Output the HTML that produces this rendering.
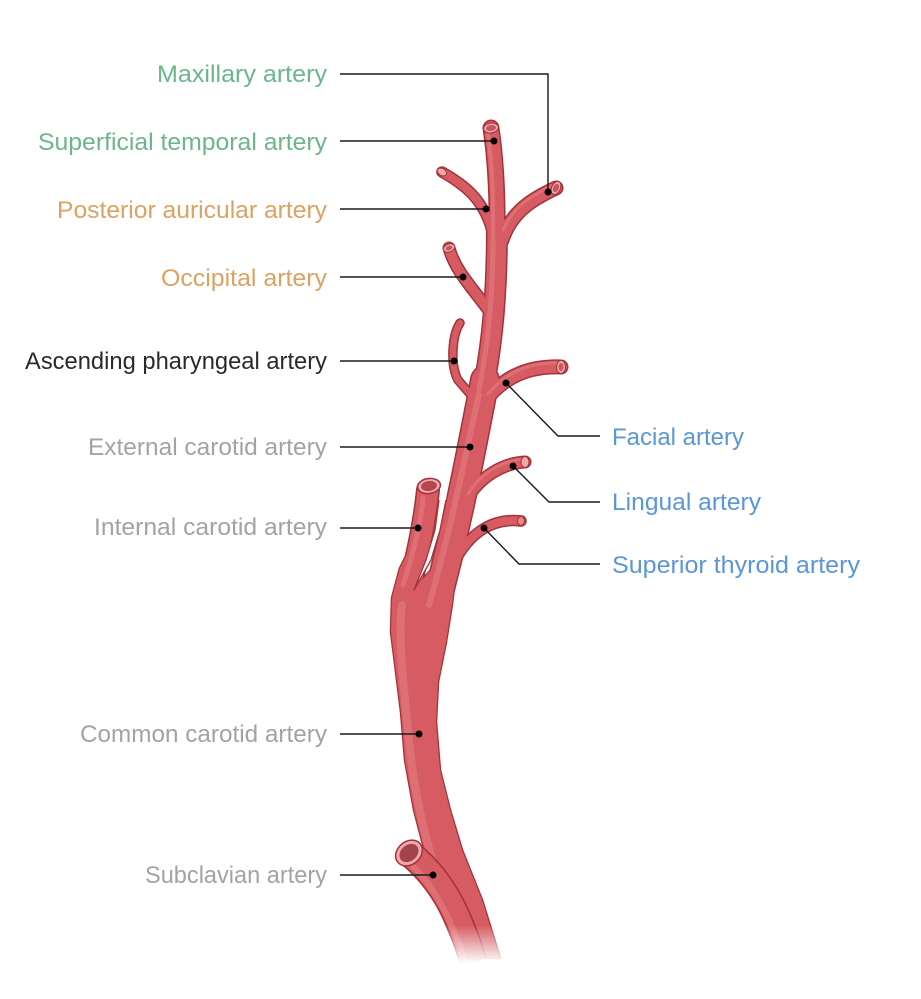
<!DOCTYPE html>
<html><head><meta charset="utf-8"><style>
html,body{margin:0;padding:0;background:#fff;}
svg{display:block;}
.t{font-family:"Liberation Sans",sans-serif;font-size:24.5px;}
</style></head><body>
<svg width="921" height="999" viewBox="0 0 921 999" xmlns="http://www.w3.org/2000/svg">
<defs>
<linearGradient id="fade" x1="0" y1="0" x2="0" y2="1">
<stop offset="0" stop-color="#fff" stop-opacity="0"/>
<stop offset="0.85" stop-color="#fff" stop-opacity="1"/>
<stop offset="1" stop-color="#fff" stop-opacity="1"/>
</linearGradient>
</defs>

<!-- OUTLINE LAYER -->
<g fill="none" stroke="#a3323a" stroke-linecap="round" stroke-linejoin="round">
<path d="M410,548 L400,568 L392,598 L391,632 L396,672 L401,712 L405,760 L414,810 L425,852 L443,900 L462,958 L500,958 L482,900 L462,850 L450,810 L440,770 L436,722 L438,682 L446,642 L452,604 L456,572 L458,540 L413,590 Z" fill="#a3323a" stroke-width="2.5"/>
<path d="M491,128 Q498,175 497,240" stroke-width="17"/>
<path d="M497,225 C497,290 493,340 483,390" stroke-width="22"/>
<path d="M485,380 C473,440 460,515 434,612" stroke-width="30"/>
<path d="M556,188 C535,198 512,210 502,240" stroke-width="15"/>
<path d="M442,172 C465,185 485,200 493,235" stroke-width="11.5"/>
<path d="M449,248 C455,270 470,285 490,312" stroke-width="13"/>
<path d="M460,323 C452,335 450,365 458,380 L477,402" stroke-width="9.5"/>
<path d="M561,367 C530,366 505,375 484,402" stroke-width="15"/>
<path d="M525,462 C505,463 480,475 465,502" stroke-width="13"/>
<path d="M521,521 C495,518 470,530 453,565" stroke-width="11.5"/>
<path d="M428,490 C425,520 419,550 409,590" stroke-width="24"/>
</g>

<!-- FILL LAYER -->
<g fill="none" stroke="#d65b62" stroke-linecap="round" stroke-linejoin="round">
<path d="M410,548 L400,568 L392,598 L391,632 L396,672 L401,712 L405,760 L414,810 L425,852 L443,900 L462,958 L500,958 L482,900 L462,850 L450,810 L440,770 L436,722 L438,682 L446,642 L452,604 L456,572 L458,540 L413,590 Z" fill="#d65b62" stroke="none"/>
<path d="M491,128 Q498,175 497,240" stroke-width="14"/>
<path d="M497,225 C497,290 493,340 483,390" stroke-width="19"/>
<path d="M485,380 C473,440 460,515 434,612" stroke-width="27"/>
<path d="M556,188 C535,198 512,210 502,240" stroke-width="12"/>
<path d="M442,172 C465,185 485,200 493,235" stroke-width="8.5"/>
<path d="M449,248 C455,270 470,285 490,312" stroke-width="10"/>
<path d="M460,323 C452,335 450,365 458,380 L477,402" stroke-width="6.5"/>
<path d="M561,367 C530,366 505,375 484,402" stroke-width="12"/>
<path d="M525,462 C505,463 480,475 465,502" stroke-width="10"/>
<path d="M521,521 C495,518 470,530 453,565" stroke-width="8.5"/>
<path d="M428,490 C425,520 419,550 409,590" stroke-width="21"/>
</g>

<!-- white gap between ICA and ECA -->
<path d="M440,492 L447,492 L446,500 L440,530 L431,560 L414,590 L426,560 L435,530 L439,500 Z" fill="#fff" stroke="none"/>
<path d="M439,500 L435,530 L426,560 L414,590 L431,560 L440,530 L446,500" fill="none" stroke="#a3323a" stroke-width="1.3" stroke-linejoin="round"/>

<!-- HIGHLIGHT LAYER -->
<g fill="none" stroke="#e98a8e" stroke-linecap="round" opacity="0.45">
<path d="M488,135 Q494,175 493,240" stroke-width="4"/>
<path d="M493,240 C493,290 489,340 479,390" stroke-width="5"/>
<path d="M479,395 C468,440 455,515 429,605" stroke-width="6"/>
<path d="M423,498 C421,520 415,548 403,585" stroke-width="5"/>
<path d="M402,605 C398,635 403,680 408,730 C413,790 426,850 452,920" stroke-width="8"/>
<path d="M553,185 C535,194 514,205 503,230" stroke-width="3"/>
<path d="M559,363 C532,362 507,371 488,394" stroke-width="3"/>
<path d="M524,459 C505,460 482,471 468,494" stroke-width="3"/>
</g>

<!-- SUBCLAVIAN -->
<path d="M409,853 C428,868 445,890 456,915 S470,950 473,962" fill="none" stroke="#a3323a" stroke-width="28" stroke-linecap="butt"/>
<path d="M409,853 C428,868 445,890 456,915 S470,950 473,962" fill="none" stroke="#d65b62" stroke-width="25" stroke-linecap="butt"/>
<path d="M404,858 C422,873 438,895 449,920 S462,950 465,962" fill="none" stroke="#e98a8e" stroke-width="6" opacity="0.45"/>
<g transform="translate(409,853) rotate(-40)">
<ellipse rx="14.5" ry="11.5" fill="#f3a8ab" stroke="#a3323a" stroke-width="1.5"/>
<ellipse rx="10.5" ry="8" fill="#a3444a"/>
</g>

<!-- CAPS -->
<g transform="translate(429,486) rotate(-8)">
<ellipse rx="11.5" ry="7.5" fill="#f3a8ab" stroke="#a3323a" stroke-width="1.5"/>
<ellipse rx="8" ry="5" fill="#b2474d"/>
</g>
<g transform="translate(491,128) rotate(-8)">
<ellipse rx="7.5" ry="5" fill="#f3a8ab" stroke="#a3323a" stroke-width="1.2"/>
<ellipse rx="5" ry="3" fill="#c15a60"/>
</g>
<g transform="translate(556,188) rotate(-65)">
<ellipse rx="7" ry="4.5" fill="#f3a8ab" stroke="#a3323a" stroke-width="1.2"/>
<ellipse rx="4.5" ry="2.8" fill="#c15a60"/>
</g>
<g transform="translate(442,172) rotate(30)">
<ellipse rx="5" ry="3.5" fill="#f3a8ab" stroke="#a3323a" stroke-width="1"/>
</g>
<g transform="translate(449,248) rotate(-20)">
<ellipse rx="6" ry="4" fill="#f3a8ab" stroke="#a3323a" stroke-width="1"/>
<ellipse rx="3.5" ry="2.2" fill="#c15a60"/>
</g>
<g transform="translate(561,367)">
<ellipse rx="4.5" ry="6.5" fill="#f3a8ab" stroke="#a3323a" stroke-width="1"/>
<ellipse rx="2.5" ry="4" fill="#c15a60"/>
</g>
<g transform="translate(525,462)">
<ellipse rx="4" ry="5.5" fill="#f3a8ab" stroke="#a3323a" stroke-width="1"/>
</g>
<g transform="translate(521,521)">
<ellipse rx="3.5" ry="4.5" fill="#e9878b" stroke="#a3323a" stroke-width="1"/>
</g>

<!-- bottom fade -->
<rect x="430" y="925" width="90" height="45" fill="url(#fade)"/>

<!-- LEADER LINES -->
<g fill="none" stroke="#1a1a1a" stroke-width="1.4">
<polyline points="340,74 548,74 548,192"/>
<line x1="340" y1="141" x2="494" y2="141"/>
<line x1="340" y1="209" x2="486" y2="209"/>
<line x1="340" y1="277" x2="463" y2="277"/>
<line x1="340" y1="361" x2="454" y2="361"/>
<line x1="340" y1="447" x2="470" y2="447"/>
<line x1="340" y1="528" x2="418" y2="528"/>
<line x1="340" y1="734" x2="419" y2="734"/>
<line x1="340" y1="875" x2="433" y2="875"/>
<polyline points="506,383 558,436 600,436"/>
<polyline points="513,466 549,502 600,502"/>
<polyline points="484,528 519,564 600,564"/>
</g>
<g fill="#000">
<circle cx="548" cy="192" r="3.5"/>
<circle cx="494" cy="141" r="3.5"/>
<circle cx="486" cy="209" r="3.5"/>
<circle cx="463" cy="277" r="3.5"/>
<circle cx="454" cy="361" r="3.5"/>
<circle cx="470" cy="447" r="3.5"/>
<circle cx="418" cy="528" r="3.5"/>
<circle cx="419" cy="734" r="3.5"/>
<circle cx="433" cy="875" r="3.5"/>
<circle cx="506" cy="383" r="3.5"/>
<circle cx="513" cy="466" r="3.5"/>
<circle cx="484" cy="528" r="3.5"/>
</g>

<!-- LABELS -->
<g class="t" text-anchor="end">
<text x="327" y="82" fill="#6db58d" textLength="170" lengthAdjust="spacingAndGlyphs">Maxillary artery</text>
<text x="327" y="150" fill="#6db58d" textLength="289" lengthAdjust="spacingAndGlyphs">Superficial temporal artery</text>
<text x="327" y="218" fill="#dba263" textLength="270" lengthAdjust="spacingAndGlyphs">Posterior auricular artery</text>
<text x="327" y="286" fill="#dba263" textLength="166" lengthAdjust="spacingAndGlyphs">Occipital artery</text>
<text x="327" y="369" fill="#2a2a2a" textLength="302" lengthAdjust="spacingAndGlyphs">Ascending pharyngeal artery</text>
<text x="327" y="455" fill="#a3a3a3" textLength="239" lengthAdjust="spacingAndGlyphs">External carotid artery</text>
<text x="327" y="535" fill="#a3a3a3" textLength="233" lengthAdjust="spacingAndGlyphs">Internal carotid artery</text>
<text x="327" y="742" fill="#a3a3a3" textLength="247" lengthAdjust="spacingAndGlyphs">Common carotid artery</text>
<text x="327" y="883" fill="#a3a3a3" textLength="182" lengthAdjust="spacingAndGlyphs">Subclavian artery</text>
</g>
<g class="t" text-anchor="start" fill="#5b96d6">
<text x="612" y="445" textLength="132" lengthAdjust="spacingAndGlyphs">Facial artery</text>
<text x="612" y="510" textLength="149" lengthAdjust="spacingAndGlyphs">Lingual artery</text>
<text x="612" y="573" textLength="248" lengthAdjust="spacingAndGlyphs">Superior thyroid artery</text>
</g>
</svg>
</body></html>
